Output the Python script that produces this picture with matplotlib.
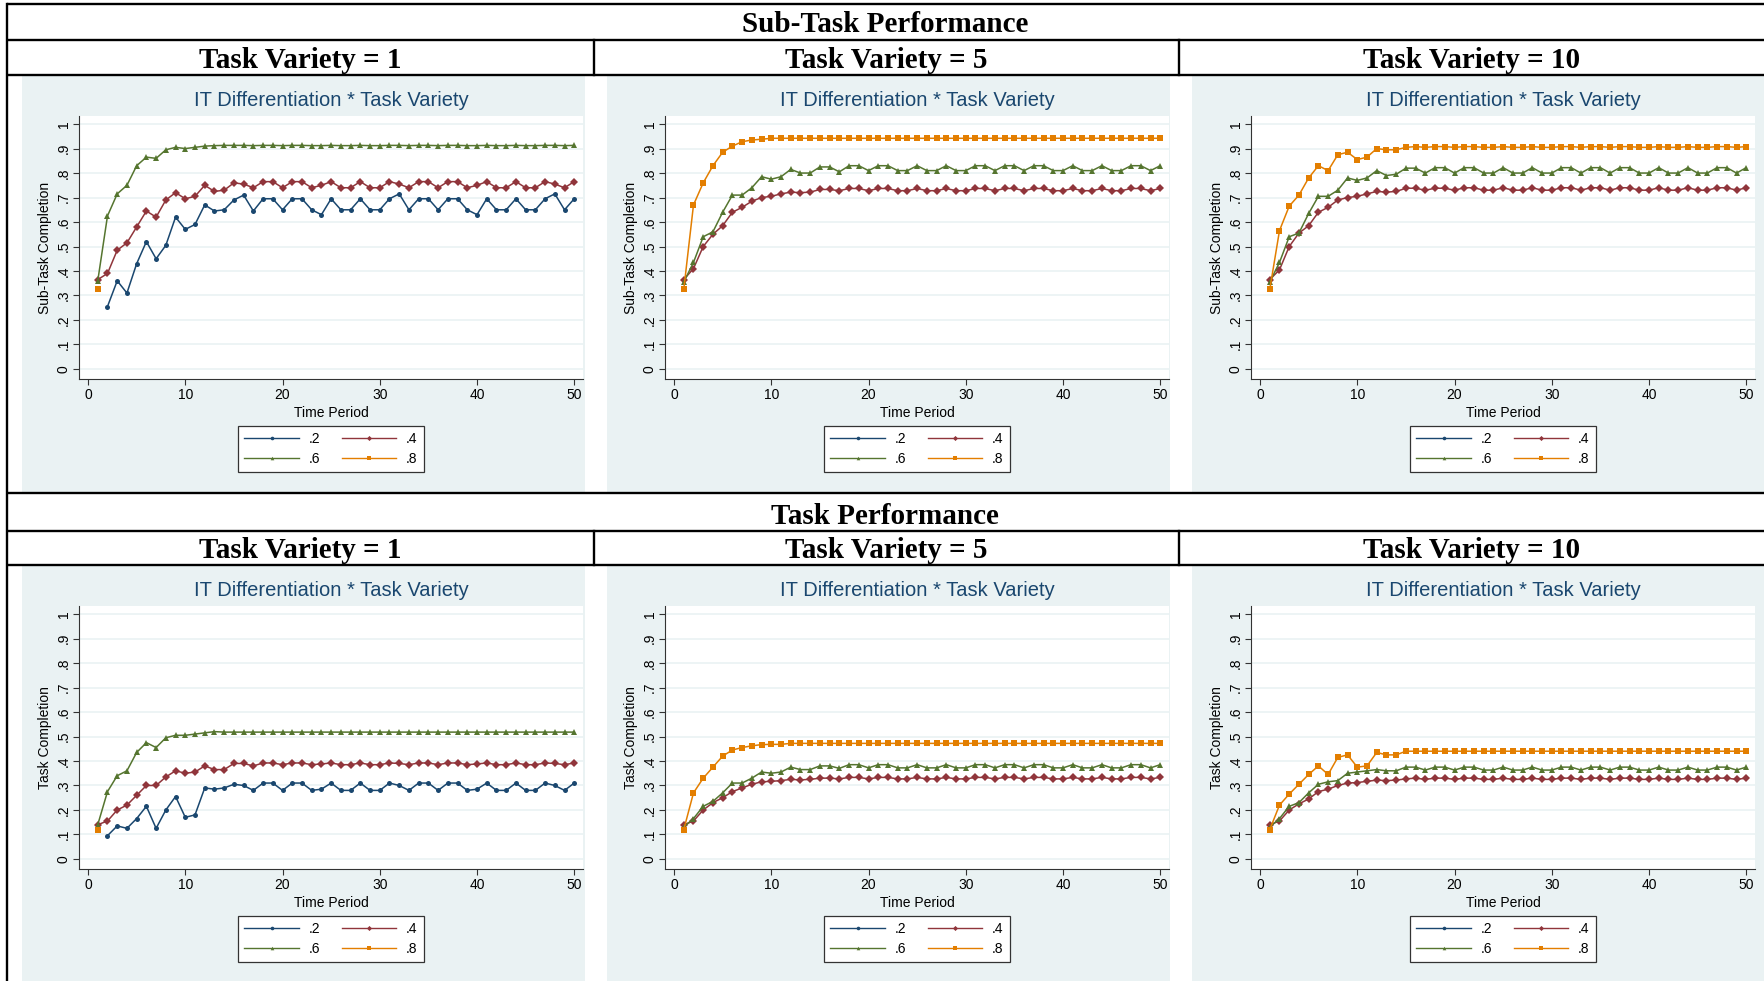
import matplotlib
matplotlib.use("Agg")
import matplotlib.pyplot as plt
from matplotlib.lines import Line2D
from matplotlib.patches import Rectangle

# ---------------- data ----------------
periods = list(range(1, 51))
series_labels = [".2", ".4", ".6", ".8"]
x_ticks = [0, 10, 20, 30, 40, 50]
y_ticks = [0, .1, .2, .3, .4, .5, .6, .7, .8, .9, 1]
y_tick_labels = ["0", ".1", ".2", ".3", ".4", ".5", ".6", ".7", ".8", ".9", "1"]
row_titles = ["Sub-Task Performance", "Task Performance"]
col_titles = ["Task Variety = 1", "Task Variety = 5", "Task Variety = 10"]
y_labels = ["Sub-Task Completion", "Task Completion"]
panel_title = "IT Differentiation * Task Variety"
x_label = "Time Period"

# Sub-task completion, Task Variety = 1
sub_tv1_02 = [None, .255, .36, .31, .43, .52, .45, .505, .62, .57,
              .59, .67, .645, .65, .69, .71, .645, .695, .695, .65,
              .695, .695, .65, .63, .695, .65, .65, .695, .65, .65,
              .695, .715, .65, .695, .695, .65, .695, .695, .65, .63,
              .695, .65, .65, .695, .65, .65, .695, .715, .65, .695]
sub_tv1_04 = [.365, .39, .485, .515, .58, .645, .62, .69, .72, .695,
              .705, .75, .725, .73, .76, .755, .74, .765, .765, .74,
              .765, .765, .74, .75, .765, .74, .74, .765, .74, .74,
              .765, .755, .74, .765, .765, .74, .765, .765, .74, .75,
              .765, .74, .74, .765, .74, .74, .765, .755, .74, .765]
sub_tv1_06 = [.36, .625, .715, .75, .83, .865, .86, .895, .905, .90,
              .905, .91, .912, .913, .913, .913, .912, .913, .913, .912,
              .913, .913, .912, .912, .913, .912, .912, .913, .912, .912,
              .913, .913, .912, .913, .913, .912, .913, .913, .912, .912,
              .913, .912, .912, .913, .912, .912, .913, .913, .912, .913]
sub_tv1_08 = [.325]

# Sub-task completion, Task Variety = 5
sub_tv5_02 = []
sub_tv5_04 = [.365, .41, .50, .55, .585, .64, .66, .685, .70, .705,
              .715, .722, .72, .722, .733, .733, .728, .737, .737, .728,
              .737, .737, .728, .728, .737, .728, .728, .737, .728, .728,
              .737, .737, .728, .737, .737, .728, .737, .737, .728, .728,
              .737, .728, .728, .737, .728, .728, .737, .737, .728, .737]
sub_tv5_06 = [.355, .435, .54, .56, .64, .71, .71, .74, .785, .775,
              .785, .815, .80, .80, .825, .825, .805, .83, .83, .81,
              .83, .83, .81, .81, .83, .81, .81, .83, .81, .81,
              .83, .83, .81, .83, .83, .81, .83, .83, .81, .81,
              .83, .81, .81, .83, .81, .81, .83, .83, .81, .83]
sub_tv5_08 = [.325, .67, .76, .83, .885, .91, .928, .935, .938, .942,
              .942, .942, .942, .942, .942, .942, .942, .942, .942, .942,
              .942, .942, .942, .942, .942, .942, .942, .942, .942, .942,
              .942, .942, .942, .942, .942, .942, .942, .942, .942, .942,
              .942, .942, .942, .942, .942, .942, .942, .942, .942, .942]

# Sub-task completion, Task Variety = 10
sub_tv10_02 = []
sub_tv10_04 = [.365, .405, .50, .555, .585, .64, .66, .69, .70, .705,
               .715, .725, .722, .725, .738, .738, .73, .738, .738, .73,
               .74, .74, .73, .73, .74, .73, .73, .74, .73, .73,
               .74, .74, .73, .74, .74, .73, .74, .74, .73, .73,
               .74, .73, .73, .74, .73, .73, .74, .74, .73, .74]
sub_tv10_06 = [.355, .435, .54, .555, .635, .705, .705, .73, .78, .77,
               .78, .81, .79, .795, .82, .82, .80, .822, .822, .80,
               .822, .822, .80, .80, .822, .80, .80, .822, .80, .80,
               .822, .822, .80, .822, .822, .80, .822, .822, .80, .80,
               .822, .80, .80, .822, .80, .80, .822, .822, .80, .822]
sub_tv10_08 = [.325, .565, .665, .71, .78, .83, .81, .875, .885, .855,
               .865, .90, .895, .895, .905, .908, .905, .908, .908, .905,
               .908, .908, .905, .905, .908, .905, .905, .908, .905, .905,
               .908, .908, .905, .908, .908, .905, .908, .908, .905, .905,
               .908, .905, .905, .908, .905, .905, .908, .908, .905, .908]

# Task completion, Task Variety = 1
task_tv1_02 = [None, .095, .135, .125, .165, .215, .125, .20, .255, .17,
               .18, .29, .285, .29, .305, .30, .28, .31, .31, .28,
               .31, .31, .28, .285, .31, .28, .28, .31, .28, .28,
               .31, .30, .28, .31, .31, .28, .31, .31, .28, .285,
               .31, .28, .28, .31, .28, .28, .31, .30, .28, .31]
task_tv1_04 = [.14, .155, .20, .22, .26, .30, .30, .335, .36, .35,
               .355, .38, .365, .365, .39, .39, .38, .392, .392, .385,
               .392, .392, .385, .388, .392, .385, .385, .392, .385, .385,
               .392, .39, .385, .392, .392, .385, .392, .392, .385, .388,
               .392, .385, .385, .392, .385, .385, .392, .39, .385, .392]
task_tv1_06 = [.14, .275, .34, .36, .435, .475, .455, .495, .505, .505,
               .51, .515, .52, .518, .518, .518, .518, .518, .518, .518,
               .518, .518, .518, .518, .518, .518, .518, .518, .518, .518,
               .518, .518, .518, .518, .518, .518, .518, .518, .518, .518,
               .518, .518, .518, .518, .518, .518, .518, .518, .518, .518]
task_tv1_08 = [.12]

# Task completion, Task Variety = 5
task_tv5_02 = []
task_tv5_04 = [.14, .155, .20, .23, .25, .275, .29, .305, .315, .317,
               .32, .325, .323, .325, .33, .33, .327, .333, .333, .327,
               .333, .333, .327, .327, .333, .327, .327, .333, .327, .327,
               .333, .333, .327, .333, .333, .327, .333, .333, .327, .327,
               .333, .327, .327, .333, .327, .327, .333, .333, .327, .333]
task_tv5_06 = [.13, .165, .215, .235, .27, .31, .31, .33, .355, .35,
               .355, .375, .365, .365, .38, .38, .37, .385, .385, .372,
               .385, .385, .372, .372, .385, .372, .372, .385, .372, .372,
               .385, .385, .372, .385, .385, .372, .385, .385, .372, .372,
               .385, .372, .372, .385, .372, .372, .385, .385, .372, .385]
task_tv5_08 = [.12, .27, .33, .375, .42, .445, .455, .462, .467, .468,
               .468, .472, .472, .472, .472, .472, .472, .472, .472, .472,
               .472, .472, .472, .472, .472, .472, .472, .472, .472, .472,
               .472, .472, .472, .472, .472, .472, .472, .472, .472, .472,
               .472, .472, .472, .472, .472, .472, .472, .472, .472, .472]

# Task completion, Task Variety = 10
task_tv10_02 = []
task_tv10_04 = [.14, .155, .20, .225, .245, .275, .285, .30, .31, .312,
                .317, .322, .32, .322, .327, .33, .325, .33, .33, .325,
                .33, .33, .325, .325, .33, .325, .325, .33, .325, .325,
                .33, .33, .325, .33, .33, .325, .33, .33, .325, .325,
                .33, .325, .325, .33, .325, .325, .33, .33, .325, .33]
task_tv10_06 = [.13, .165, .215, .23, .27, .305, .315, .32, .35, .355,
                .36, .365, .36, .36, .375, .375, .363, .375, .375, .363,
                .375, .375, .363, .363, .375, .363, .363, .375, .363, .363,
                .375, .375, .363, .375, .375, .363, .375, .375, .363, .363,
                .375, .363, .363, .375, .363, .363, .375, .375, .363, .375]
task_tv10_08 = [.12, .22, .265, .305, .345, .38, .345, .415, .425, .375,
                .38, .435, .425, .425, .44, .44, .44, .44, .44, .44,
                .44, .44, .44, .44, .44, .44, .44, .44, .44, .44,
                .44, .44, .44, .44, .44, .44, .44, .44, .44, .44,
                .44, .44, .44, .44, .44, .44, .44, .44, .44, .44]

panels = [
    [[sub_tv1_02, sub_tv1_04, sub_tv1_06, sub_tv1_08],
     [sub_tv5_02, sub_tv5_04, sub_tv5_06, sub_tv5_08],
     [sub_tv10_02, sub_tv10_04, sub_tv10_06, sub_tv10_08]],
    [[task_tv1_02, task_tv1_04, task_tv1_06, task_tv1_08],
     [task_tv5_02, task_tv5_04, task_tv5_06, task_tv5_08],
     [task_tv10_02, task_tv10_04, task_tv10_06, task_tv10_08]],
]

# ---------------- style ----------------
W, H = 1764, 981
colors = ["#1A476F", "#90353B", "#55752F", "#E37E00"]
markers = ["o", "D", "^", "s"]
msizes = [3.6, 4.0, 4.8, 3.9]
bg = "#EAF2F3"
sans = ["Liberation Sans", "DejaVu Sans"]
serif = ["Liberation Serif", "DejaVu Serif"]

fig = plt.figure(figsize=(W / 100, H / 100), dpi=100)
fig.patch.set_facecolor("white")

# background overlay in pixel coordinates
bgax = fig.add_axes([0, 0, 1, 1], zorder=0)
bgax.set_xlim(0, W)
bgax.set_ylim(H, 0)
bgax.axis("off")

col_x0 = [7, 594, 1179]
col_x1 = [594, 1179, 1764]
grey_x = [(22, 585), (607, 1170), (1192, 1764)]
row_off = [0, 490]
grey_y = [(76, 493), (566, 981)]

for r in range(2):
    for c in range(3):
        gx0, gx1 = grey_x[c]
        gy0, gy1 = grey_y[r]
        bgax.add_patch(Rectangle((gx0, gy0), gx1 - gx0, gy1 - gy0,
                                 facecolor=bg, edgecolor="none", zorder=0))

lw_tab = 1.7
for y in [4, 40, 75, 493, 531, 565]:
    bgax.plot([7, W], [y, y], color="black", lw=lw_tab, solid_capstyle="butt", zorder=3)
bgax.plot([7, 7], [4, H], color="black", lw=lw_tab, zorder=3)
for x in [594, 1179]:
    bgax.plot([x, x], [40, 75], color="black", lw=lw_tab, zorder=3)
    bgax.plot([x, x], [531, 565], color="black", lw=lw_tab, zorder=3)

# header texts
bgax.text(885, 25, row_titles[0], ha="center", va="center", family=serif,
          fontweight="bold", fontsize=21, zorder=4)
bgax.text(885, 516, row_titles[1], ha="center", va="center", family=serif,
          fontweight="bold", fontsize=21, zorder=4)
for r, yc in enumerate([60, 551]):
    for c in range(3):
        bgax.text((col_x0[c] + col_x1[c]) / 2, yc, col_titles[c], ha="center",
                  va="center", family=serif, fontweight="bold", fontsize=21, zorder=4)

# plot panels
plot_x0 = [79, 665, 1251]
plot_w = 504
plot_top, plot_bot = 116, 379

for r in range(2):
    for c in range(3):
        off = row_off[r]
        x0 = plot_x0[c]
        y0 = plot_top + off
        y1 = plot_bot + off
        ax = fig.add_axes([x0 / W, 1 - y1 / H, plot_w / W, (y1 - y0) / H], zorder=2)
        ax.set_facecolor("white")
        ax.set_xlim(-0.93, 50.9)
        ax.set_ylim(-0.041, 1.033)
        ax.set_yticks(y_ticks)
        ax.set_yticklabels(y_tick_labels, rotation=90, va="center")
        ax.set_xticks(x_ticks)
        ax.set_xticklabels([str(t) for t in x_ticks])
        for lab in ax.get_xticklabels() + ax.get_yticklabels():
            lab.set_family(sans)
            lab.set_fontsize(10)
        ax.tick_params(direction="out", length=4, width=0.8, color="#333333", pad=2.5)
        ax.tick_params(axis="y", pad=2)
        for s in ["top", "right"]:
            ax.spines[s].set_visible(False)
        for s in ["left", "bottom"]:
            ax.spines[s].set_color("#333333")
            ax.spines[s].set_linewidth(0.8)
        ax.yaxis.grid(True, color=bg, lw=1.2)
        ax.set_axisbelow(True)
        ax.set_xlabel(x_label, family=sans, fontsize=10, labelpad=3)
        ax.set_ylabel(y_labels[r], family=sans, fontsize=10, labelpad=3)

        for k, vals in enumerate(panels[r][c]):
            if len(vals) == 0:
                continue
            xs = periods[:len(vals)]
            ys = [float("nan") if v is None else v for v in vals]
            ax.plot(xs, ys, color=colors[k], lw=1.1, marker=markers[k],
                    markersize=msizes[k], markeredgewidth=0, zorder=3 + k,
                    clip_on=False)

        cx = x0 + plot_w / 2
        bgax.text(cx, 101 + off, panel_title, ha="center", va="center",
                  family=sans, fontsize=14.5, color="#1A476F", zorder=4)

        handles = [Line2D([], [], color=colors[k], lw=1.0, marker=markers[k],
                          markersize=2.6, markeredgewidth=0, label=series_labels[k])
                   for k in range(4)]
        order = [0, 2, 1, 3]
        leg = ax.legend([handles[i] for i in order], [series_labels[i] for i in order],
                        ncol=2, loc="center",
                        bbox_to_anchor=(cx / W, 1 - (449 + off) / H),
                        bbox_transform=fig.transFigure,
                        prop={"family": sans, "size": 10},
                        frameon=True, fancybox=False, edgecolor="#333333",
                        facecolor="white", framealpha=1,
                        handlelength=3.9, handletextpad=0.7, columnspacing=1.6,
                        labelspacing=0.4, borderpad=0.45)
        leg.get_frame().set_linewidth(0.9)

fig.savefig("out.png", dpi=100)
